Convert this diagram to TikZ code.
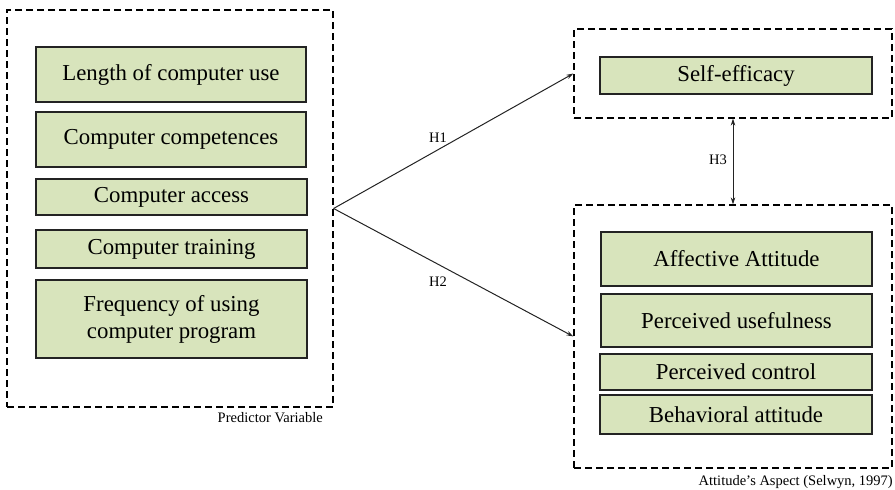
\documentclass[tikz,border=0pt]{standalone}
\usepackage{fontspec}
\setmainfont{Liberation Serif}
\usetikzlibrary{arrows.meta}
\definecolor{boxgreen}{RGB}{216,228,188}
\definecolor{edgegray}{RGB}{35,35,35}
\begin{document}
\begin{tikzpicture}[x=1pt,y=-1pt,
  itembox/.style={draw=edgegray,line width=1.3pt,fill=boxgreen,inner sep=0pt,
    align=center,font=\fontsize{22.8}{27}\selectfont},
  groupbox/.style={draw=black,line width=1.2pt,dash pattern=on 7pt off 4pt,inner sep=0pt},
  smalllbl/.style={font=\fontsize{14.5}{16}\selectfont,inner sep=0pt},
  link/.style={line width=1pt,draw=edgegray,-{Stealth[length=7pt,width=4.5pt]}}]
\useasboundingbox (0,0) rectangle (895,490);
% groups
\node[groupbox,minimum width=326pt,minimum height=397pt] (pred) at (170,208.5) {};
\node[groupbox,minimum width=318pt,minimum height=89pt] (selfg) at (733,73.5) {};
\node[groupbox,minimum width=318pt,minimum height=263pt] (attg) at (733,336.5) {};
% left boxes
\node[itembox,minimum width=270pt,minimum height=55pt] (b1) at (171,74.5) {Length of computer use};
\node[itembox,minimum width=270pt,minimum height=55pt] (b2) at (171,139.5) {Computer competences};
\node[itembox,minimum width=271pt,minimum height=36pt] (b3) at (171.5,197) {Computer access};
\node[itembox,minimum width=271pt,minimum height=38pt] (b4) at (171.5,249) {Computer training};
\node[itembox,minimum width=271pt,minimum height=78pt] (b5) at (171.5,319) {Frequency of using\\computer program};
% right boxes
\node[itembox,minimum width=272pt,minimum height=37pt] (se) at (736,75.5) {Self-efficacy};
\node[itembox,minimum width=271pt,minimum height=54pt] (aa) at (736.5,259) {Affective Attitude};
\node[itembox,minimum width=271pt,minimum height=53pt] (pu) at (736.5,320.5) {Perceived usefulness};
\node[itembox,minimum width=272pt,minimum height=36pt] (pc) at (736,372) {Perceived control};
\node[itembox,minimum width=272pt,minimum height=39pt] (ba) at (736,414.5) {Behavioral attitude};
% captions
\node[smalllbl,anchor=east] (predlbl) at (323,418) {Predictor Variable};
\node[smalllbl,anchor=east] (attlbl) at (893,482) {Attitude's Aspect (Selwyn, 1997)};
% connectors
\draw[link] (pred.east) -- (selfg.west);
\draw[link] (pred.east) -- (attg.west);
\draw[line width=1pt,draw=edgegray,{Stealth[length=7pt,width=4.5pt]}-{Stealth[length=7pt,width=4.5pt]}] (selfg.south) -- (attg.north);
\node[smalllbl] (h1) at (438,138) {H1};
\node[smalllbl] (h2) at (438,282) {H2};
\node[smalllbl] (h3) at (718,160) {H3};
\end{tikzpicture}
\end{document}
